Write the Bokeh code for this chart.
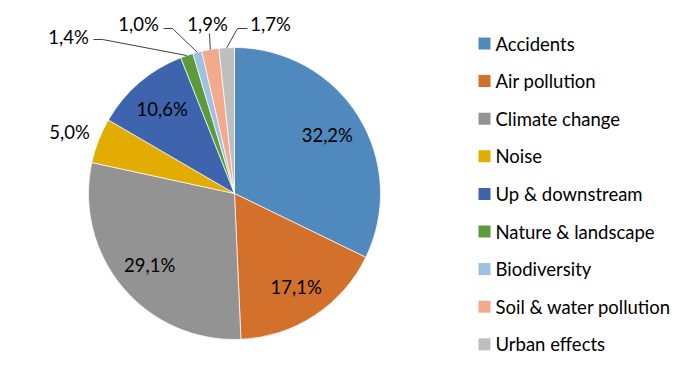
import math
from bokeh.plotting import figure
from bokeh.models import Range1d
from bokeh.core.properties import value
from bokeh.embed import file_html
from bokeh.resources import INLINE

# ---- data ----
categories = ["Accidents", "Air pollution", "Climate change", "Noise", "Up & downstream",
              "Nature & landscape", "Biodiversity", "Soil & water pollution", "Urban effects"]
shares = [32.2, 17.1, 29.1, 5.0, 10.6, 1.4, 1.0, 1.9, 1.7]
labels = ["32,2%", "17,1%", "29,1%", "5,0%", "10,6%", "1,4%", "1,0%", "1,9%", "1,7%"]
colors = ["#4F89BE", "#D3702B", "#939393", "#E3AC00", "#3D64AD",
          "#5C9A3C", "#9DC0E3", "#F2A98C", "#BEBEBE"]

FONT = "Lato"
W, H = 684, 371
p = figure(width=W, height=H, output_backend="svg", toolbar_location=None,
           x_range=Range1d(0, W), y_range=Range1d(-H, 0), min_border=0)
p.axis.visible = False
p.grid.visible = False
p.outline_line_color = None

cx, cy, R = 234, -193, 146
total = sum(shares)
starts, ends, mids = [], [], []
cum = 0.0
for s in shares:
    a0 = math.pi / 2 - 2 * math.pi * cum / total
    cum += s
    a1 = math.pi / 2 - 2 * math.pi * cum / total
    starts.append(a0); ends.append(a1); mids.append((a0 + a1) / 2)

p.wedge(x=cx, y=cy, radius=R, start_angle=starts, end_angle=ends, direction="clock",
        fill_color=colors, line_color="white", line_width=0.7)

# inside labels (radius fraction), outside labels (layout positions)
inside = {0: 0.75, 1: 0.77, 2: 0.76, 4: 0.76}
outside_pos = {3: (69, -131), 5: (68, -36), 6: (138, -23), 7: (207, -23), 8: (270, -23)}
elbows = {5: [(93, -39), (102, -39)], 6: [(163, -28), (172, -28)],
          7: [(209, -33)], 8: [(247, -28), (237, -28)]}

tx, ty, tt = [], [], []
for i, lab in enumerate(labels):
    if i in inside:
        r = R * inside[i]
        tx.append(cx + r * math.cos(mids[i])); ty.append(cy + r * math.sin(mids[i]))
    else:
        tx.append(outside_pos[i][0]); ty.append(outside_pos[i][1])
    tt.append(lab)
p.text(x=tx, y=ty, text=tt, text_align="center", text_baseline="middle",
       text_font=value(FONT), text_font_size="18.5px", text_color="#000000")

for i, pts in elbows.items():
    ex = cx + R * math.cos(mids[i]); ey = cy + R * math.sin(mids[i])
    xs = [q[0] for q in pts] + [ex]
    ys = [q[1] for q in pts] + [ey]
    p.line(xs, ys, line_color="#404040", line_width=1)

# legend
ly0, dy = -43, -37.6
lys = [ly0 + k * dy for k in range(len(categories))]
p.scatter(x=[484] * len(categories), y=lys, marker="square", size=12,
          fill_color=colors, line_color=None)
p.text(x=[495] * len(categories), y=lys, text=categories, text_align="left",
       text_baseline="middle", text_font=value(FONT), text_font_size="18.5px",
       text_color="#000000")

open("out.html", "w").write(file_html(p, INLINE))
